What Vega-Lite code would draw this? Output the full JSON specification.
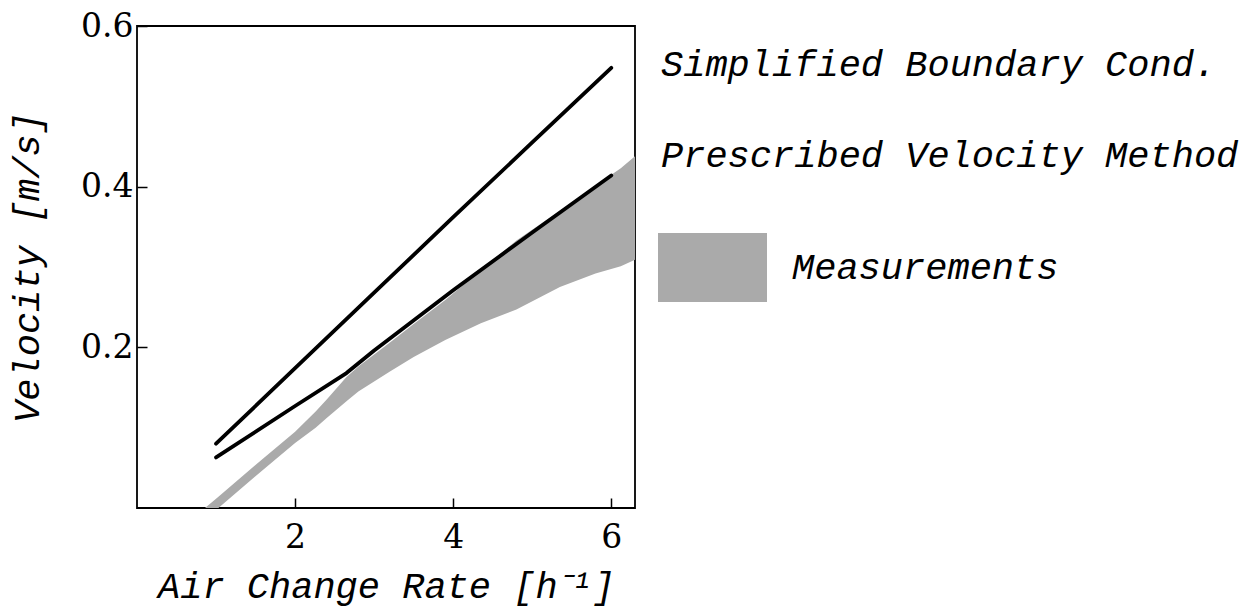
{
  "$schema": "https://vega.github.io/schema/vega-lite/v6.json",
  "width": 498,
  "height": 482,
  "autosize": {"type": "none"},
  "padding": {"left": 137, "top": 26, "right": 612, "bottom": 102},
  "background": "white",
  "config": {
    "view": {"stroke": "black", "strokeWidth": 1.8},
    "axis": {
      "domain": false,
      "grid": false,
      "tickColor": "black",
      "tickWidth": 1.5,
      "tickSize": -10,
      "labelFont": "DejaVu Serif",
      "labelFontSize": 33,
      "labelColor": "black",
      "titleFont": "Liberation Mono",
      "titleFontStyle": "italic",
      "titleFontWeight": "normal",
      "titleFontSize": 37,
      "titleColor": "black"
    }
  },
  "datasets": {
    "lines": [
      {"model": "Simplified Boundary Cond.", "rate": 1.0, "velocity": 0.08},
      {"model": "Simplified Boundary Cond.", "rate": 2.0, "velocity": 0.174},
      {"model": "Simplified Boundary Cond.", "rate": 3.0, "velocity": 0.268},
      {"model": "Simplified Boundary Cond.", "rate": 4.0, "velocity": 0.362},
      {"model": "Simplified Boundary Cond.", "rate": 5.0, "velocity": 0.455},
      {"model": "Simplified Boundary Cond.", "rate": 6.0, "velocity": 0.548},
      {"model": "Prescribed Velocity Method", "rate": 1.0, "velocity": 0.063},
      {"model": "Prescribed Velocity Method", "rate": 2.0, "velocity": 0.127},
      {"model": "Prescribed Velocity Method", "rate": 2.65, "velocity": 0.168},
      {"model": "Prescribed Velocity Method", "rate": 3.0, "velocity": 0.196},
      {"model": "Prescribed Velocity Method", "rate": 4.0, "velocity": 0.271},
      {"model": "Prescribed Velocity Method", "rate": 5.0, "velocity": 0.343},
      {"model": "Prescribed Velocity Method", "rate": 6.0, "velocity": 0.414}
    ],
    "band": [
      {"kind": "Measurements", "rate": 0.86, "lo": 0.0, "hi": 0.0},
      {"kind": "Measurements", "rate": 1.03, "lo": 0.0, "hi": 0.014},
      {"kind": "Measurements", "rate": 1.6, "lo": 0.048, "hi": 0.062},
      {"kind": "Measurements", "rate": 2.0, "lo": 0.081, "hi": 0.095},
      {"kind": "Measurements", "rate": 2.26, "lo": 0.1, "hi": 0.12},
      {"kind": "Measurements", "rate": 2.4, "lo": 0.112, "hi": 0.135},
      {"kind": "Measurements", "rate": 2.65, "lo": 0.133, "hi": 0.163},
      {"kind": "Measurements", "rate": 2.8, "lo": 0.145, "hi": 0.176},
      {"kind": "Measurements", "rate": 3.2, "lo": 0.17, "hi": 0.206},
      {"kind": "Measurements", "rate": 3.5, "lo": 0.188, "hi": 0.229},
      {"kind": "Measurements", "rate": 3.9, "lo": 0.209, "hi": 0.259},
      {"kind": "Measurements", "rate": 4.35, "lo": 0.23, "hi": 0.296},
      {"kind": "Measurements", "rate": 4.8, "lo": 0.247, "hi": 0.333},
      {"kind": "Measurements", "rate": 5.35, "lo": 0.275, "hi": 0.37},
      {"kind": "Measurements", "rate": 5.8, "lo": 0.292, "hi": 0.401},
      {"kind": "Measurements", "rate": 6.12, "lo": 0.301, "hi": 0.423},
      {"kind": "Measurements", "rate": 6.3, "lo": 0.309, "hi": 0.438}
    ]
  },
  "layer": [
    {
      "data": {"name": "band"},
      "mark": {"type": "area", "clip": true, "opacity": 1},
      "encoding": {
        "x": {
          "field": "rate", "type": "quantitative",
          "scale": {"domain": [0, 6.3], "nice": false, "zero": false},
          "axis": {"values": [2, 4, 6], "format": "d", "title": "Air Change Rate [h⁻¹]", "labelPadding": 23, "titleY": 89, "titleBaseline": "alphabetic"}
        },
        "y": {
          "field": "lo", "type": "quantitative",
          "scale": {"domain": [0, 0.6], "nice": false},
          "axis": {"values": [0.2, 0.4, 0.6], "format": ".1f", "title": "Velocity [m/s]", "labelPadding": 14, "titlePadding": 34}
        },
        "y2": {"field": "hi"},
        "fill": {
          "field": "kind", "type": "nominal",
          "scale": {"domain": ["Measurements"], "range": ["#aaaaaa"]},
          "legend": {
            "orient": "none",
            "legendX": 521,
            "legendY": 187,
            "title": null,
            "symbolType": "M-1,-0.633H1V0.633H-1Z",
            "symbolSize": 11881,
            "symbolStrokeWidth": 0,
            "symbolOpacity": 1,
            "labelOffset": 25,
            "labelFont": "Liberation Mono",
            "labelFontStyle": "italic",
            "labelFontSize": 37,
            "labelColor": "black",
            "labelLimit": 0,
            "padding": 0
          }
        }
      }
    },
    {
      "data": {"name": "lines"},
      "mark": {"type": "line", "strokeWidth": 3.8, "strokeCap": "round", "strokeJoin": "round"},
      "encoding": {
        "x": {"field": "rate", "type": "quantitative"},
        "y": {"field": "velocity", "type": "quantitative"},
        "stroke": {
          "field": "model", "type": "nominal",
          "scale": {"domain": ["Simplified Boundary Cond.", "Prescribed Velocity Method"], "range": ["black", "black"]},
          "legend": {
            "orient": "none",
            "legendX": 487,
            "legendY": 20,
            "title": null,
            "symbolSize": 0,
            "symbolOpacity": 0,
            "labelOffset": 0,
            "rowPadding": 53,
            "labelFont": "Liberation Mono",
            "labelFontStyle": "italic",
            "labelFontSize": 37,
            "labelColor": "black",
            "labelLimit": 0,
            "padding": 0
          }
        }
      }
    }
  ]
}
